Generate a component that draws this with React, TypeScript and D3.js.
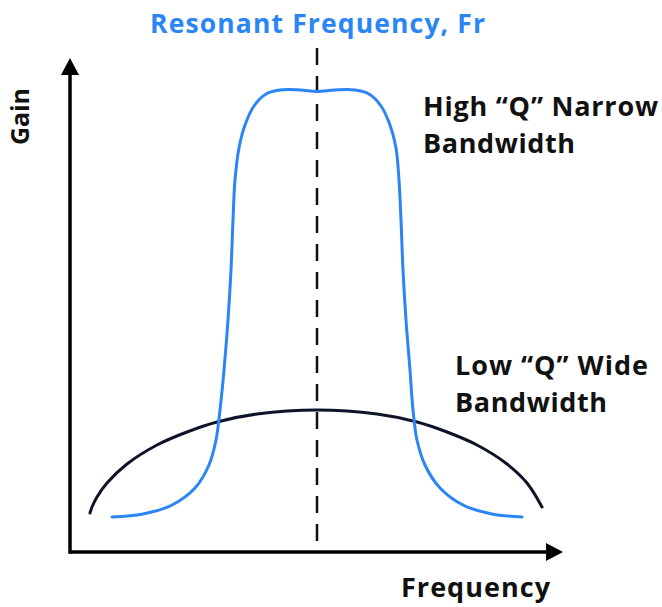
import React from "react";
import * as d3 from "d3";

// Curve samples: frequency (arbitrary units) and gain (arbitrary units)
const highQFreq = [42, 73, 102, 125, 139, 146, 150, 154, 158, 161, 163, 165, 169, 175, 184, 196, 210, 230, 247, 265, 285, 299, 311, 320, 326, 329, 331, 333, 336, 340, 343, 347, 355, 370, 393, 422, 452];
const highQGain = [35, 38, 47, 64, 87, 112, 142, 182, 232, 282, 332, 372, 404, 427, 446, 458, 462, 462, 460.5, 462, 462, 458, 446, 427, 404, 372, 332, 282, 232, 182, 142, 112, 87, 64, 47, 38, 35];

const lowQFreq = [20, 22, 27, 37, 57, 87, 117, 147, 187, 247, 307, 347, 377, 407, 437, 457, 472];
const lowQGain = [39, 45, 55, 69, 88, 107, 120, 130, 138, 142, 138, 130, 120, 107, 88, 69, 45];

const resonantFreq = 247;
const xDomain = [0, 493];
const yDomain = [0, 494];

const title = "Resonant Frequency, Fr";
const xLabel = "Frequency";
const yLabel = "Gain";
const highQLabel = ["High \u201CQ\u201D Narrow", "Bandwidth"];
const lowQLabel = ["Low \u201CQ\u201D Wide", "Bandwidth"];

const W = 662;
const H = 607;
const BLUE = "#2a85f5";
const DARK = "#0f1528";
const FONT = "'Open Sans', Lato, sans-serif";

export default function App() {
  const x = d3.scaleLinear().domain(xDomain).range([70, 563]);
  const y = d3.scaleLinear().domain(yDomain).range([552, 58]);

  const curve = d3
    .line<[number, number]>()
    .x((d) => x(d[0]))
    .y((d) => y(d[1]))
    .curve(d3.curveCatmullRom.alpha(0.5));

  const highQ = highQFreq.map((f, i) => [f, highQGain[i]] as [number, number]);
  const lowQ = lowQFreq.map((f, i) => [f, lowQGain[i]] as [number, number]);

  const x0 = x(0);
  const y0 = y(0);
  const xTip = x(xDomain[1]);
  const yTip = y(yDomain[1]);

  const label = { fill: "#111", fontWeight: 700, lengthAdjust: "spacing" as const };

  return (
    <svg
      width={W}
      height={H}
      style={{ position: "absolute", left: 0, top: 0, background: "#fff" }}
      fontFamily={FONT}
    >
      <rect width={W} height={H} fill="#fff" />
      {/* resonant dashed line */}
      <line
        x1={x(resonantFreq)}
        x2={x(resonantFreq)}
        y1={48}
        y2={y0}
        stroke="#111"
        strokeWidth={2.5}
        strokeDasharray="17,11"
      />
      {/* curves */}
      <path d={curve(lowQ) || ""} fill="none" stroke={DARK} strokeWidth={3} strokeLinecap="round" />
      <path d={curve(highQ) || ""} fill="none" stroke={BLUE} strokeWidth={3} strokeLinecap="round" />
      {/* axes */}
      <line x1={x0} x2={xTip - 14} y1={y0} y2={y0} stroke="#000" strokeWidth={3.5} />
      <line x1={x0} x2={x0} y1={y0 + 1.75} y2={yTip + 14} stroke="#000" strokeWidth={3.5} />
      <path d={`M${xTip},${y0} L${xTip - 17},${y0 - 9} L${xTip - 17},${y0 + 9} Z`} fill="#000" />
      <path d={`M${x0},${yTip} L${x0 - 9},${yTip + 17} L${x0 + 9},${yTip + 17} Z`} fill="#000" />
      {/* texts */}
      <text x={150} y={33} fill={BLUE} fontSize={26.5} fontWeight={700} textLength={335} lengthAdjust="spacing">
        {title}
      </text>
      <text transform={`translate(29,145) rotate(-90)`} {...label} fontSize={25} textLength={57}>
        {yLabel}
      </text>
      <text x={401} y={597} {...label} fontSize={27} textLength={149}>
        {xLabel}
      </text>
      <text x={423} y={116} {...label} fontSize={27} textLength={235}>
        {highQLabel[0]}
      </text>
      <text x={423} y={153} {...label} fontSize={27} textLength={152}>
        {highQLabel[1]}
      </text>
      <text x={455} y={375} {...label} fontSize={27} textLength={193}>
        {lowQLabel[0]}
      </text>
      <text x={455} y={412} {...label} fontSize={27} textLength={152}>
        {lowQLabel[1]}
      </text>
    </svg>
  );
}
